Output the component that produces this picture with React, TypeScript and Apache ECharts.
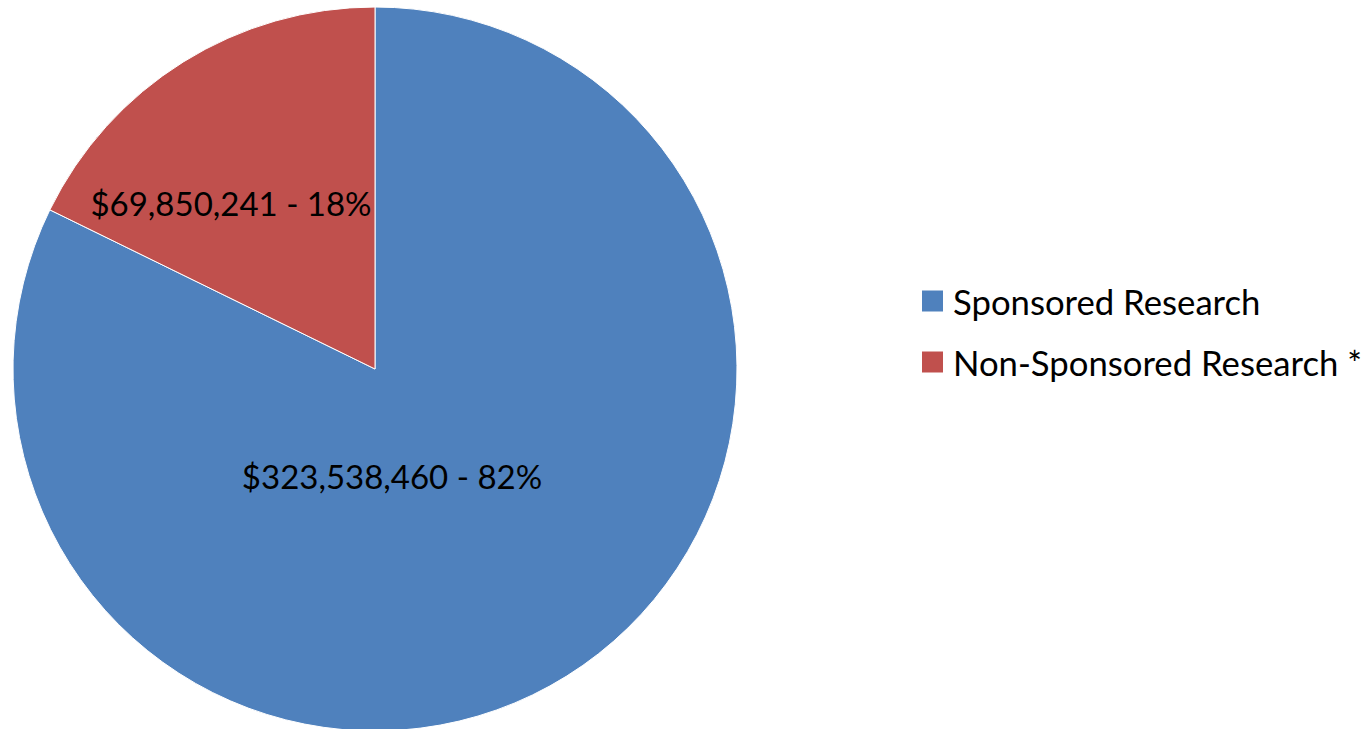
import React, { useEffect, useRef } from "react";
import * as echarts from "echarts";

const categories = ["Sponsored Research", "Non-Sponsored Research *"];
const values = [323538460, 69850241];
const colors = ["#4F81BD", "#C0504D"];

export default function App() {
  const ref = useRef<HTMLDivElement>(null);
  useEffect(() => {
    if (!ref.current) return;
    const chart = echarts.init(ref.current, undefined, { renderer: "svg" });
    const labelPos = [
      { x: 392, y: 476 },
      { x: 231, y: 203 },
    ];
    chart.setOption({
      animation: false,
      backgroundColor: "#ffffff",
      legend: {
        orient: "vertical",
        left: 922,
        top: 281,
        padding: 0,
        itemWidth: 21,
        itemHeight: 21,
        itemGap: 21,
        icon: "rect",
        itemStyle: { borderWidth: 0 },
        data: categories,
        textStyle: {
          fontFamily: "Lato",
          fontSize: 34.7,
          color: "#000000",
          lineHeight: 40,
          padding: [0, 0, 0, 5],
        },
      },
      series: [
        {
          type: "pie",
          center: [375, 369],
          radius: [0, 362],
          startAngle: 90,
          clockwise: true,
          avoidLabelOverlap: false,
          itemStyle: { borderColor: "#ffffff", borderWidth: 1 },
          emphasis: { disabled: true },
          label: {
            show: true,
            position: "inside",
            fontFamily: "Lato",
            fontSize: 33,
            color: "#000000",
            formatter: (p: any) =>
              "$" + Number(p.value).toLocaleString("en-US") + " - " + Math.round(p.percent) + "%",
          },
          labelLayout: (p: any) => ({
            x: labelPos[p.dataIndex].x,
            y: labelPos[p.dataIndex].y,
            align: "center",
            verticalAlign: "middle",
          }),
          data: categories.map((name, i) => ({
            name,
            value: values[i],
            itemStyle: { color: colors[i] },
          })),
        },
      ],
    });
    return () => chart.dispose();
  }, []);
  return (
    <div
      ref={ref}
      style={{ position: "fixed", left: 0, top: 0, width: 1371, height: 729 }}
    />
  );
}
